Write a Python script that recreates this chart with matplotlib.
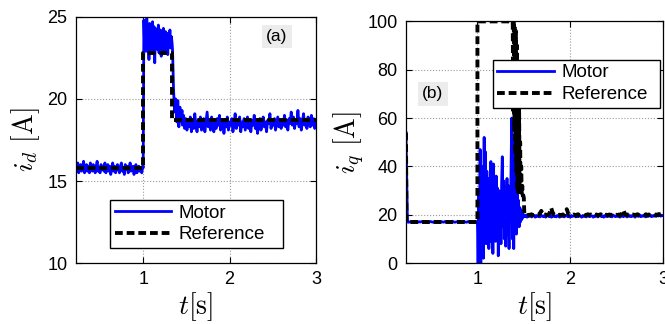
import numpy as np
import matplotlib
matplotlib.use("Agg")
import matplotlib.pyplot as plt

plt.rcParams['font.family'] = ['Liberation Sans', 'DejaVu Sans']
plt.rcParams['mathtext.fontset'] = 'cm'

# ---------------- data: panel (a) i_d ----------------
id_motor_1 = [15.9,15.6,16.1,15.5,15.9,16.0,15.6,15.8,16.2,15.5,15.7,16.0,15.6,15.9,15.5,16.1,15.8,15.6,16.0,15.7,
              15.5,15.9,16.2,15.6,15.8,15.5,16.0,15.7,15.9,15.6,16.1,15.5,15.8,16.0,15.6,15.9,15.4,15.7,16.1,15.6,
              15.9,15.5,15.8,16.0,15.7,15.5,15.9,16.1,15.6,15.8,15.4,16.0,15.7,15.9,15.5,15.8,16.1,15.6,15.7,15.9,
              15.4,15.8,16.0,15.5,15.7,15.9,15.6,15.8,15.5,15.9]
id_motor_2 = [15.8,24.8,23.2,24.5,22.9,24.9,23.5,24.2,22.4,24.6,23.8,24.0,22.9,24.7,23.3,24.4,22.2,24.3,23.6,24.1,
              23.0,24.5,22.8,23.9,24.2,22.6,24.0,23.4,24.3,22.9,23.8,24.1,23.2,24.0,22.7,23.9,23.5,24.2,23.1,23.8,23.4]
id_motor_3 = [23.0,20.5,19.2,20.0,18.6,19.9,18.3,19.5,18.6,19.3]
id_motor_4 = [18.4,19.0,18.2,18.8,18.1,18.7,18.3,18.9,18.0,18.6,18.2,19.1,18.4,18.0,18.7,18.3,18.9,18.1,18.5,18.8,
              18.0,18.6,19.2,18.3,18.7,18.1,18.9,18.4,18.0,18.6,18.2,18.8,18.4,19.0,18.1,18.5,18.7,17.9,18.6,18.3,
              18.9,18.1,18.6,18.4,18.8,18.0,18.5,19.1,18.2,18.7,18.4,18.9,18.0,18.6,18.3,18.8,18.1,18.5,18.9,18.2,
              18.6,18.0,18.7,18.4,19.0,18.2,18.5,17.9,18.6,18.8,18.1,18.4,18.9,18.3,18.6,18.0,18.7,18.5,19.1,18.2,
              18.6,18.4,18.8,18.1,18.5,18.9,18.3,18.7,18.2,18.6,18.4,19.0,18.3,18.7,18.1,18.8,18.5,19.2,18.4,18.9,
              18.2,18.7,18.5,19.3,18.3,18.8,18.1,18.6,19.1,18.4,18.7,18.2,18.9,18.5,18.3,19.0,18.4,18.8,18.2,18.6]
id_ref_t = [0.22, 1.0, 1.0, 1.335, 1.335, 3.0]
id_ref_v = [15.8, 15.8, 22.8, 22.8, 18.7, 18.7]

# ---------------- data: panel (b) i_q ----------------
iq_motor_1 = [54.0,17.0,16.9,17.1,17.0,16.8,17.2,17.0,16.9,17.1,17.0,17.2,16.9,17.0,17.1,16.8,17.0,17.2,17.0,16.9,
              17.1,17.0,17.3,16.9,17.0,17.1,16.9,17.2,17.0,17.1,16.9,17.0,17.3,17.0,16.9,17.1,17.0,17.2,16.9,17.0,
              17.1,17.0,16.9,17.2,17.0,17.1,16.9,17.0,17.2,17.0]
iq_motor_2 = [17,0,28,10,47,0,35,5,40,2,52,10,46,8,38,12,35,6,30,9,
              42,11,33,4,41,14,34,9,36,16,31,3,30,12,29,8,33,44,15,34,
              10,30,7,25,35,12,32,6,28,18,40,60,10,52,6,45,18,38,12,30,
              16,26,15,23,17,22,18,21,19,20]
iq_motor_3 = [19.2,19.8,19.0,19.6,19.3,19.9,19.1,19.5,19.8,19.0,19.7,19.3,19.6,19.1,19.9,19.4,19.2,19.7,19.0,19.5,
              19.8,19.2,19.6,19.0,19.9,19.3,19.5,19.1,19.7,19.4,19.0,19.8,19.3,19.6,19.1,19.5,19.9,19.2,19.6,19.0,
              19.7,19.3,19.5,19.8,19.1,19.6,19.2,19.9,19.4,19.0,19.7,19.3,19.6,19.1,19.8,19.4,19.2,19.7,19.5,19.0,
              19.6,19.3,19.9,19.1,19.5,19.8,19.2,19.6,19.0,19.7,19.4,19.2,19.8,19.3,19.6,19.1,19.9,19.5,19.2,19.7,
              19.3,19.6,19.0,19.8,19.4,19.2,19.7,19.5,19.1,19.9,19.3,19.6,19.2,19.8,19.4,19.0,19.7,19.5,19.3,19.9,
              19.2,19.6,19.4,19.8,19.1,19.7,19.3,19.5,19.9,19.2,19.6,19.4,19.8,19.3,19.7,19.5,19.9,19.4,19.8,19.6]
iq_ref_1_t = [0.23, 0.235, 1.0, 1.0, 1.37]
iq_ref_1_v = [54, 17, 17, 100, 100]
iq_ref_2 = [100,100,62,100,55,98,45,96,38,90,30,80,28,65,29,50,28,40,29,32,28,28,27]
iq_ref_3 = [20.5,20.1,19.7,20.0,19.9,20.2,19.8,20.0,19.7,20.1,19.9,20.6,21.6,20.4,19.9,20.1,19.8,20.0,20.9,22.8,
            21.0,20.0,19.8,20.1,19.9,20.0,19.7,20.1,19.9,20.8,22.3,20.6,19.9,20.0,19.8,20.1,19.7,20.0,20.2,19.8,
            20.0,19.9,20.1,19.8,20.0,20.2,19.9,20.1,19.8,20.0,19.9,20.1,19.7,20.0,20.2,19.8,20.1,19.9,20.0,19.8,
            20.1,19.9,20.0,20.2,19.8,20.0,19.9,20.1,19.8,20.5,21.9,20.4,19.9,20.1,19.8,20.0,19.9,20.1,19.8,20.0,
            20.2,19.9,20.1,19.8,20.0,19.9,20.2,19.8,20.1,19.9,20.0,20.2,19.8,20.1,19.9,20.3,20.0,20.2,19.9]

# time grids for each segment
id_t = np.concatenate([np.linspace(0.22, 0.995, len(id_motor_1)),
                       np.linspace(1.0, 1.335, len(id_motor_2)),
                       np.linspace(1.34, 1.45, len(id_motor_3)),
                       np.linspace(1.455, 3.0, len(id_motor_4))])
id_motor = np.concatenate([id_motor_1, id_motor_2, id_motor_3, id_motor_4])

iq_t = np.concatenate([np.linspace(0.23, 0.995, len(iq_motor_1)),
                       np.linspace(1.0, 1.5, len(iq_motor_2)),
                       np.linspace(1.51, 3.0, len(iq_motor_3))])
iq_motor = np.concatenate([iq_motor_1, iq_motor_2, iq_motor_3])

iq_ref_t = np.concatenate([iq_ref_1_t,
                           np.linspace(1.375, 1.50, len(iq_ref_2)),
                           np.linspace(1.505, 3.0, len(iq_ref_3))])
iq_ref = np.concatenate([iq_ref_1_v, iq_ref_2, iq_ref_3])

# ---------------- figure ----------------
fig = plt.figure(figsize=(6.65, 3.24), dpi=100)
ax1 = fig.add_axes([0.114, 0.188, 0.361, 0.760])
ax2 = fig.add_axes([0.6105, 0.188, 0.3865, 0.746])

blue = '#0000ff'
dash = (2.0, 1.0)

def style(ax):
    ax.grid(True, color='#9a9a9a', linestyle=':', linewidth=0.8)
    ax.tick_params(direction='in', top=True, right=True, length=4, width=0.8,
                   labelsize=13, pad=6)
    for s in ax.spines.values():
        s.set_linewidth(0.9)
    ax.set_axisbelow(True)

leg_kw = dict(fontsize=13.5, handlelength=3.0, frameon=True, fancybox=False,
              edgecolor='black', framealpha=1, borderaxespad=0, labelspacing=0.25,
              handletextpad=0.4, borderpad=0.25, mode='expand', loc='lower left')

ax1.plot(id_t, id_motor, color=blue, lw=2.0, label='Motor')
ax1.plot(id_ref_t, id_ref_v, color='black', lw=2.8, dashes=dash, label='Reference')
ax1.set_xlim(0.22, 3.0)
ax1.set_ylim(10, 25)
ax1.set_xticks([1, 2, 3])
ax1.set_yticks([10, 15, 20, 25])
style(ax1)
ax1.set_ylabel(r'$i_d\ [\mathrm{A}]$', fontsize=20, labelpad=4)
ax1.set_xlabel(r'$t[\mathrm{s}]$', fontsize=20, labelpad=1)
ax1.text(2.55, 23.8, '(a)', fontsize=12.5, ha='center', va='center',
         bbox=dict(facecolor='#ececec', edgecolor='none', pad=3))
ax1.legend(bbox_to_anchor=(0.142, 0.061, 0.72, 0.232), **leg_kw)

ax2.plot(iq_t, iq_motor, color=blue, lw=2.0, label='Motor')
ax2.plot(iq_ref_t, iq_ref, color='black', lw=2.8, dashes=dash, label='Reference')
ax2.set_xlim(0.23, 3.0)
ax2.set_ylim(0, 100)
ax2.set_xticks([1, 2, 3])
ax2.set_yticks([0, 20, 40, 60, 80, 100])
style(ax2)
ax2.set_ylabel(r'$i_q\ [\mathrm{A}]$', fontsize=20, labelpad=0)
ax2.set_xlabel(r'$t[\mathrm{s}]$', fontsize=20, labelpad=1)
ax2.text(0.52, 70, '(b)', fontsize=12.5, ha='center', va='center',
         bbox=dict(facecolor='#ececec', edgecolor='none', pad=3))
ax2.legend(bbox_to_anchor=(0.337, 0.642, 0.653, 0.236), **leg_kw)

fig.savefig('out.png', dpi=100)
